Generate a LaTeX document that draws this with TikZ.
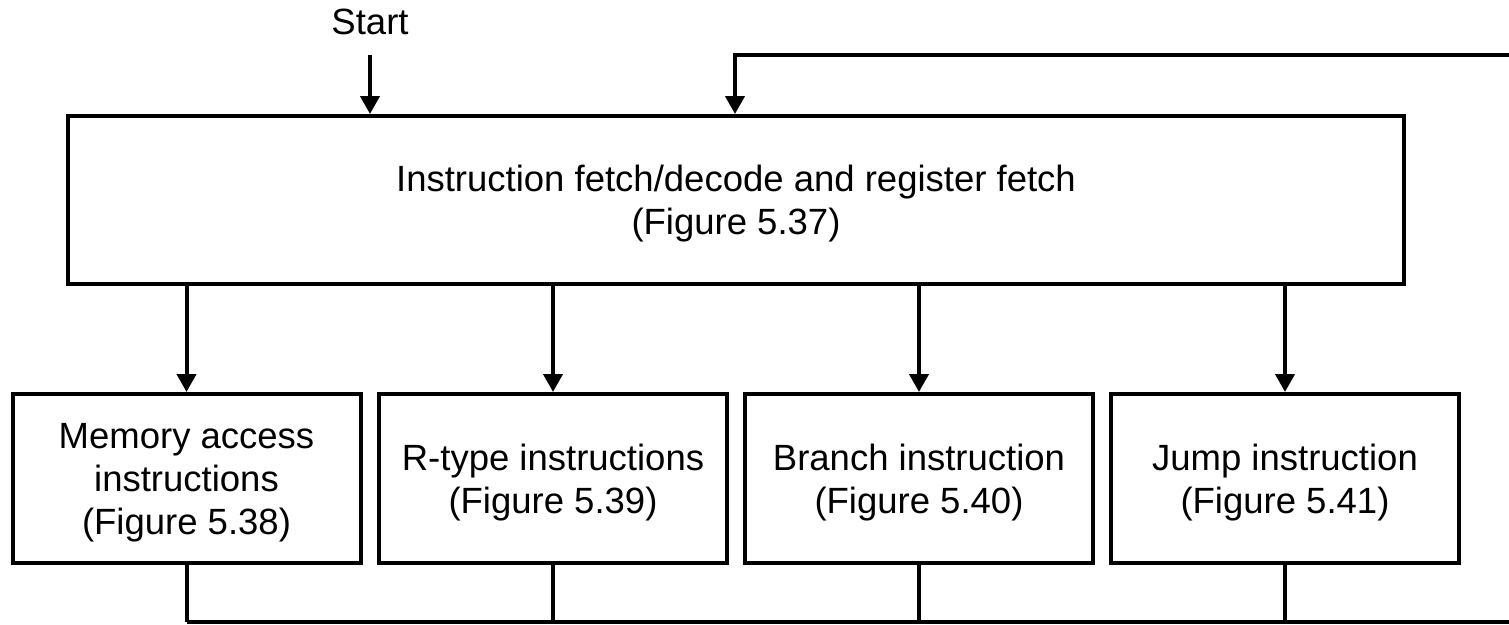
\documentclass[tikz,border=0pt]{standalone}
\usepackage{fontspec}
\setmainfont{Liberation Sans}
\usetikzlibrary{arrows.meta}
\begin{document}
\begin{tikzpicture}[x=1pt,y=-1pt,line width=4pt,
  box/.style={draw,rectangle,inner sep=0pt,align=center,text depth=-1pt,font=\fontsize{36.5}{43}\selectfont},
  bigbox/.style={box,minimum width=1336pt,minimum height=168pt},
  smallbox/.style={box,minimum width=348pt,minimum height=169pt},
  arr/.style={-{Triangle[length=18pt,width=19pt]}},
  lbl/.style={font=\fontsize{36.5}{43}\selectfont,inner sep=0pt}]
\useasboundingbox (0,0) rectangle (1509,624);
\node[bigbox] (main) at (736,200) {Instruction fetch/decode and register fetch\\(Figure 5.37)};
\node[smallbox] (mem) at (186.5,478.5) {Memory access\\instructions\\(Figure 5.38)};
\node[smallbox] (rtype) at (553,478.5) {R-type instructions\\(Figure 5.39)};
\node[smallbox] (branch) at (919,478.5) {Branch instruction\\(Figure 5.40)};
\node[smallbox] (jump) at (1285,478.5) {Jump instruction\\(Figure 5.41)};
\node[lbl] (start) at (370,22) {Start};
\coordinate (s) at (370,55);
\coordinate (fbtop) at (735,55);
\coordinate (fbright) at (1515,55);
\coordinate (fbbottom) at (1515,622);
\draw[arr] (s) -- (s |- main.north);
\draw[arr] (fbright) -- (fbtop) -- (fbtop |- main.north);
\foreach \b in {mem,rtype,branch,jump}{
  \draw[arr] (\b.north |- main.south) -- (\b.north);
  \draw (\b.south) -- (\b.south |- fbbottom);
}
\draw (mem.south |- fbbottom) -- (fbbottom);
\end{tikzpicture}
\end{document}
